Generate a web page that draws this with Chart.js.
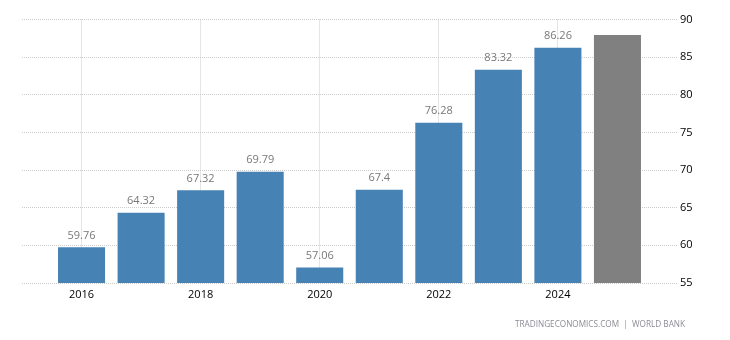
<!DOCTYPE html>
<html>
<head>
<meta charset="utf-8">
<script src="https://cdn.jsdelivr.net/npm/chart.js@4.4.1/dist/chart.umd.min.js"></script>
<style>
  html, body { margin: 0; padding: 0; background: #ffffff; }
  #wrap { width: 730px; height: 340px; position: relative; }
</style>
</head>
<body>
<div id="wrap"><canvas id="chart" width="730" height="340"></canvas></div>
<script>
// Yearly values (2025 is the forecast bar, drawn in grey without a label)
const years = [2016, 2017, 2018, 2019, 2020, 2021, 2022, 2023, 2024, 2025];
const values = [59.76, 64.32, 67.32, 69.79, 57.06, 67.4, 76.28, 83.32, 86.26, 87.94];
const forecastYears = [2025];
const yTicks = [55, 60, 65, 70, 75, 80, 85, 90];

const FONT = "'Open Sans', 'Liberation Sans', sans-serif";
const BLUE = '#4682b4';
const GREY = '#808080';
const GRID = '#cccccc';

// One empty year on each side gives the half-step margin around the bars
const labels = [years[0] - 1, ...years, years[years.length - 1] + 1].map(String);
const data = [null, ...values, null];
const colors = [null, ...years.map(y => forecastYears.includes(y) ? GREY : BLUE), null];

const isLabelledYear = yr => yr % 2 === 0 && years.includes(yr);

const valueLabels = {
  id: 'valueLabels',
  afterDatasetsDraw(chart) {
    const ctx = chart.ctx;
    const meta = chart.getDatasetMeta(0);
    ctx.save();
    ctx.font = '11px ' + FONT;
    ctx.fillStyle = '#787878';
    ctx.textAlign = 'center';
    ctx.textBaseline = 'bottom';
    meta.data.forEach((bar, i) => {
      const v = data[i];
      if (v == null) return;
      if (forecastYears.includes(Number(labels[i]))) return;
      ctx.fillText(String(v), bar.x, bar.y - 6);
    });
    ctx.restore();
  }
};

const footer = {
  id: 'footer',
  afterDraw(chart) {
    const ctx = chart.ctx;
    ctx.save();
    ctx.font = '8.2px ' + FONT;
    ctx.fillStyle = '#8c8c96';
    ctx.textAlign = 'right';
    ctx.textBaseline = 'middle';
    ctx.fillText('TRADINGECONOMICS.COM  |  WORLD BANK', 685, 325);
    ctx.restore();
  }
};

new Chart(document.getElementById('chart'), {
  type: 'bar',
  data: {
    labels: labels,
    datasets: [{
      data: data,
      backgroundColor: colors,
      borderWidth: 0,
      categoryPercentage: 1,
      barPercentage: 0.79
    }]
  },
  options: {
    responsive: false,
    animation: false,
    devicePixelRatio: 1,
    layout: { padding: { left: 22, top: 19.5, right: 0, bottom: 0 } },
    plugins: { legend: { display: false }, tooltip: { enabled: false } },
    scales: {
      x: {
        offset: false,
        border: { display: false, dash: [1, 1] },
        grid: {
          offset: false,
          drawTicks: false,
          lineWidth: 1,
          color: ctx => (ctx.tick && isLabelledYear(Number(labels[ctx.index]))) ? GRID : 'rgba(0,0,0,0)'
        },
        ticks: {
          autoSkip: false,
          maxRotation: 0,
          padding: 5,
          color: '#000',
          font: { family: FONT, size: 11 },
          callback: function (val) {
            const yr = Number(this.getLabelForValue(val));
            return isLabelledYear(yr) ? String(yr) : '';
          }
        },
        afterFit: s => { s.height = 57; }
      },
      y: {
        position: 'right',
        min: yTicks[0],
        max: yTicks[yTicks.length - 1],
        border: { display: false, dash: [1, 1] },
        grid: { drawTicks: false, color: GRID },
        afterBuildTicks: s => { s.ticks = yTicks.map(v => ({ value: v })); },
        ticks: {
          padding: 3,
          color: '#000',
          font: { family: FONT, size: 11 }
        },
        afterFit: s => { s.width = 53; }
      }
    }
  },
  plugins: [valueLabels, footer]
});
</script>
</body>
</html>
